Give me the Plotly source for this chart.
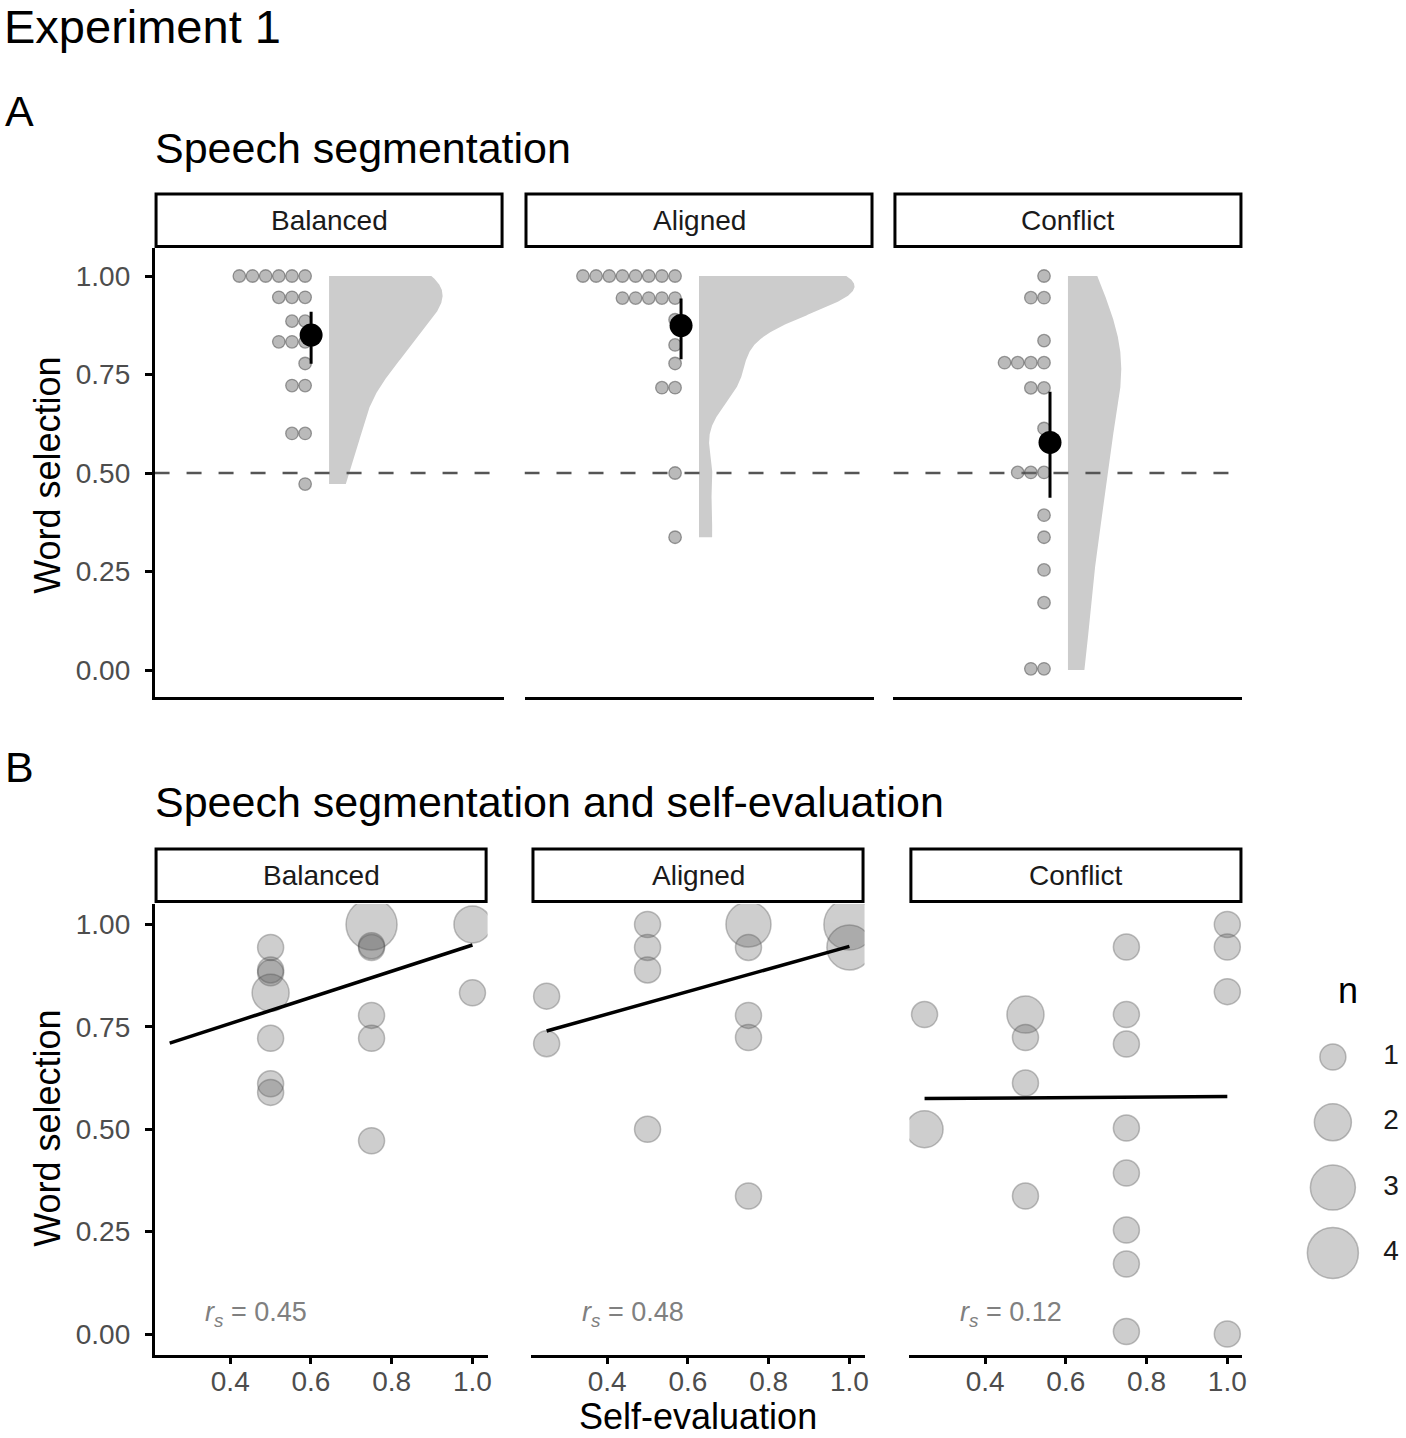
import numpy as np
import plotly.graph_objects as go

W, H = 1406, 1438

# ---------------- data ----------------
CONDITIONS = ["Balanced", "Aligned", "Conflict"]

# per participant group: self-evaluation, word selection, count n
BALANCED_SELF = [0.5, 0.5, 0.5, 0.5, 0.5, 0.5, 0.5, 0.75, 0.75, 0.75, 0.75, 0.75, 0.75, 1.0, 1.0]
BALANCED_WORD = [0.944, 0.889, 0.882, 0.833, 0.722, 0.611, 0.590, 1.0, 0.944, 0.948, 0.778, 0.722, 0.472, 1.0, 0.833]
BALANCED_N = [1, 1, 1, 2, 1, 1, 1, 4, 1, 1, 1, 1, 1, 2, 1]

ALIGNED_SELF = [0.25, 0.25, 0.5, 0.5, 0.5, 0.5, 0.75, 0.75, 0.75, 0.75, 0.75, 1.0, 1.0]
ALIGNED_WORD = [0.825, 0.709, 1.0, 0.944, 0.889, 0.5, 1.0, 0.944, 0.778, 0.724, 0.337, 1.0, 0.944]
ALIGNED_N = [1, 1, 1, 1, 1, 1, 3, 1, 1, 1, 1, 4, 3]

CONFLICT_SELF = [0.25, 0.25, 0.5, 0.5, 0.5, 0.5, 0.75, 0.75, 0.75, 0.75, 0.75, 0.75, 0.75, 0.75,
                 1.0, 1.0, 1.0, 1.0]
CONFLICT_WORD = [0.78, 0.5, 0.78, 0.724, 0.613, 0.337, 0.945, 0.78, 0.708, 0.503, 0.393, 0.254, 0.171, 0.006,
                 1.0, 0.945, 0.836, 0.0]
CONFLICT_N = [1, 2, 2, 1, 1, 1, 1, 1, 1, 1, 1, 1, 1, 1, 1, 1, 1, 1]

# bootstrapped 95% CI of the mean
CI_LOW = [0.777, 0.789, 0.437]
CI_HIGH = [0.909, 0.943, 0.706]

# Spearman correlations shown in panel B
RS_VALUES = [0.45, 0.48, 0.12]

CHANCE = 0.5
Y_TICKS = [0.0, 0.25, 0.5, 0.75, 1.0]
X_TICKS = [0.4, 0.6, 0.8, 1.0]
N_LEVELS = [1, 2, 3, 4]

DATA = {
    "Balanced": (BALANCED_SELF, BALANCED_WORD, BALANCED_N),
    "Aligned": (ALIGNED_SELF, ALIGNED_WORD, ALIGNED_N),
    "Conflict": (CONFLICT_SELF, CONFLICT_WORD, CONFLICT_N),
}

# ---------------- geometry / style ----------------
FONT = "Liberation Sans, Arial, Helvetica, sans-serif"
A_PANELS = [(155, 505), (526, 876), (896, 1246)]
A_TOP, A_BOT = 248, 697
A_XRANGE = [0.4, 1.6]
A_YRANGE = [-0.0685, 1.0711]
B_PANELS = [(155, 489), (533, 867), (912, 1246)]
B_TOP, B_BOT = 904, 1354.5
B_XRANGE = [0.2125, 1.0375]
B_YRANGE = [-0.05, 1.05]
A_STRIP = (194, 246.5)
B_STRIP = (849, 901.5)

A_PX_PER_X = (A_PANELS[0][1] - A_PANELS[0][0]) / (A_XRANGE[1] - A_XRANGE[0])
DOT_BINWIDTH = 0.0335
DOT_OFFSET_PX = -24
DOT_STEP_PX = 13.2
MEAN_OFFSET_PX = -18
VIOLIN_MAX_PX = 156
SIZE_PX = {1: 26, 2: 37, 3: 45, 4: 51}

CIRCLE_FILL = "rgba(90,90,90,0.42)"
CIRCLE_LINE = "rgba(70,70,70,0.5)"


def px_x(px):
    return px / W


def px_y(py):
    return 1 - py / H


def axid(k):
    return "" if k == 1 else str(k)


def expand(self_vals, word_vals, n_vals):
    s = np.repeat(np.asarray(self_vals, float), n_vals)
    w = np.repeat(np.asarray(word_vals, float), n_vals)
    return s, w


def dot_bins(values, binwidth):
    v = np.sort(np.asarray(values, float))
    centers, counts = [], []
    i = 0
    while i < len(v):
        start = v[i]
        j = i
        while j < len(v) and v[j] < start + binwidth:
            j += 1
        grp = v[i:j]
        centers.append((grp.min() + grp.max()) / 2)
        counts.append(len(grp))
        i = j
    return centers, counts


def kde(values, grid):
    v = np.asarray(values, float)
    n = len(v)
    sd = v.std(ddof=1)
    q75, q25 = np.percentile(v, [75, 25])
    iqr = q75 - q25
    lo = min(sd, iqr / 1.34) if iqr > 0 else sd
    bw = 0.9 * lo * n ** -0.2
    z = (grid[:, None] - v[None, :]) / bw
    return np.exp(-0.5 * z ** 2).sum(1) / (n * bw * np.sqrt(2 * np.pi))


fig = go.Figure()

# ---------------- densities (area scaling across panels) ----------------
dens = {}
for cond in CONDITIONS:
    _, w = expand(*DATA[cond])
    grid = np.linspace(w.min(), w.max(), 512)
    dens[cond] = (grid, kde(w, grid))
global_max = max(d.max() for _, d in dens.values())
violin_max_x = VIOLIN_MAX_PX / A_PX_PER_X

# ---------------- panel A ----------------
for i, cond in enumerate(CONDITIONS):
    k = i + 1
    xr, yr = "x" + axid(k), "y" + axid(k)
    s, w = expand(*DATA[cond])
    center = 1.0

    grid, d = dens[cond]
    vx = np.concatenate([center + violin_max_x * d / global_max, [center, center]])
    vy = np.concatenate([grid, [grid[-1], grid[0]]])
    fig.add_trace(go.Scatter(x=vx, y=vy, xaxis=xr, yaxis=yr, mode="lines", fill="toself",
                             fillcolor="#CCCCCC", line=dict(width=0, color="#CCCCCC"),
                             hoverinfo="skip", showlegend=False))

    fig.add_trace(go.Scatter(x=A_XRANGE, y=[CHANCE, CHANCE], xaxis=xr, yaxis=yr, mode="lines",
                             line=dict(color="#555555", width=2.5, dash="15px,17px"),
                             hoverinfo="skip", showlegend=False))

    centers, counts = dot_bins(w, DOT_BINWIDTH)
    dx, dy = [], []
    for c, cnt in zip(centers, counts):
        for j in range(cnt):
            dx.append(center + (DOT_OFFSET_PX - j * DOT_STEP_PX) / A_PX_PER_X)
            dy.append(c)
    fig.add_trace(go.Scatter(x=dx, y=dy, xaxis=xr, yaxis=yr, mode="markers",
                             marker=dict(size=12.5, color="rgba(110,110,110,0.48)",
                                         line=dict(color="rgba(80,80,80,0.55)", width=1.3)),
                             hoverinfo="skip", showlegend=False))

    mx = center + MEAN_OFFSET_PX / A_PX_PER_X
    fig.add_trace(go.Scatter(x=[mx, mx], y=[CI_LOW[i], CI_HIGH[i]], xaxis=xr, yaxis=yr,
                             mode="lines", line=dict(color="black", width=3),
                             hoverinfo="skip", showlegend=False))
    fig.add_trace(go.Scatter(x=[mx], y=[w.mean()], xaxis=xr, yaxis=yr, mode="markers",
                             marker=dict(size=23, color="black"),
                             hoverinfo="skip", showlegend=False))

# ---------------- panel B ----------------
all_self = np.concatenate([np.asarray(DATA[c][0], float) for c in CONDITIONS])
line_x = np.array([all_self.min(), all_self.max()])
for i, cond in enumerate(CONDITIONS):
    k = i + 4
    xr, yr = "x" + axid(k), "y" + axid(k)
    sv, wv, nv = DATA[cond]
    fig.add_trace(go.Scatter(x=sv, y=wv, xaxis=xr, yaxis=yr, mode="markers",
                             marker=dict(size=[SIZE_PX[n] for n in nv], color=CIRCLE_FILL,
                                         line=dict(color=CIRCLE_LINE, width=1.5)),
                             hoverinfo="skip", showlegend=False))
    s, w = expand(sv, wv, nv)
    slope, intercept = np.polyfit(s, w, 1)
    fig.add_trace(go.Scatter(x=line_x, y=intercept + slope * line_x, xaxis=xr, yaxis=yr,
                             mode="lines", line=dict(color="black", width=3.5),
                             hoverinfo="skip", showlegend=False))

# ---------------- size legend ----------------
fig.add_trace(go.Scatter(x=[0.346] * len(N_LEVELS), y=N_LEVELS, xaxis="x7", yaxis="y7",
                         mode="markers",
                         marker=dict(size=[SIZE_PX[n] for n in N_LEVELS], color=CIRCLE_FILL,
                                     line=dict(color=CIRCLE_LINE, width=1.5)),
                         hoverinfo="skip", showlegend=False))
fig.add_trace(go.Scatter(x=[0.896] * len(N_LEVELS), y=N_LEVELS, xaxis="x7", yaxis="y7",
                         mode="text", text=[str(n) for n in N_LEVELS],
                         textfont=dict(family=FONT, size=28, color="#1A1A1A"),
                         hoverinfo="skip", showlegend=False))

# ---------------- axes ----------------
layout = dict(width=W, height=H, margin=dict(l=0, r=0, t=0, b=0), autosize=False,
              paper_bgcolor="white", plot_bgcolor="rgba(0,0,0,0)", showlegend=False,
              font=dict(family=FONT, color="#1A1A1A"))

tickfont = dict(family=FONT, size=28, color="#4D4D4D")
for i in range(3):
    k = i + 1
    l, r = A_PANELS[i]
    layout["xaxis" + axid(k)] = dict(domain=[px_x(l), px_x(r)], range=A_XRANGE, anchor="y" + axid(k),
                                     showline=True, linecolor="black", linewidth=2.5,
                                     ticks="", showticklabels=False, showgrid=False, zeroline=False,
                                     fixedrange=True)
    ya = dict(domain=[px_y(A_BOT), px_y(A_TOP)], range=A_YRANGE, anchor="x" + axid(k),
              showgrid=False, zeroline=False, fixedrange=True)
    if k == 1:
        ya.update(showline=True, linecolor="black", linewidth=2.5, ticks="outside", ticklen=7,
                  tickwidth=2.5, tickcolor="black", tickvals=Y_TICKS, tickformat=".2f",
                  tickfont=tickfont, ticklabelstandoff=9)
    else:
        ya.update(showline=False, ticks="", showticklabels=False)
    layout["yaxis" + axid(k)] = ya

for i in range(3):
    k = i + 4
    l, r = B_PANELS[i]
    layout["xaxis" + axid(k)] = dict(domain=[px_x(l), px_x(r)], range=B_XRANGE, anchor="y" + axid(k),
                                     showline=True, linecolor="black", linewidth=2.5,
                                     ticks="outside", ticklen=7, tickwidth=2.5, tickcolor="black",
                                     tickvals=X_TICKS, tickformat=".1f", tickfont=tickfont,
                                     ticklabelstandoff=-7,
                                     showgrid=False, zeroline=False, fixedrange=True)
    ya = dict(domain=[px_y(B_BOT), px_y(B_TOP)], range=B_YRANGE, anchor="x" + axid(k),
              showgrid=False, zeroline=False, fixedrange=True)
    if k == 4:
        ya.update(showline=True, linecolor="black", linewidth=2.5, ticks="outside", ticklen=7,
                  tickwidth=2.5, tickcolor="black", tickvals=Y_TICKS, tickformat=".2f",
                  tickfont=tickfont, ticklabelstandoff=9)
    else:
        ya.update(showline=False, ticks="", showticklabels=False)
    layout["yaxis" + axid(k)] = ya

layout["xaxis7"] = dict(domain=[px_x(1300), px_x(1406)], range=[0, 1], anchor="y7", visible=False,
                        fixedrange=True)
layout["yaxis7"] = dict(domain=[px_y(1290), px_y(1020)], range=[4.568, 0.433], anchor="x7",
                        visible=False, fixedrange=True)

# ---------------- strips, titles, labels ----------------
shapes = []
annotations = []


def add_text(text, x, y, size, xanchor="left", color="#000000", angle=0):
    annotations.append(dict(text=text, x=px_x(x), y=px_y(y), xref="paper", yref="paper",
                            xanchor=xanchor, yanchor="middle", showarrow=False, textangle=angle,
                            borderpad=0, font=dict(family=FONT, size=size, color=color)))


for panels, (t, b) in ((A_PANELS, A_STRIP), (B_PANELS, B_STRIP)):
    for (l, r), cond in zip(panels, CONDITIONS):
        shapes.append(dict(type="rect", xref="paper", yref="paper",
                           x0=px_x(l + 1.5), x1=px_x(r - 1.5), y0=px_y(b), y1=px_y(t),
                           line=dict(color="black", width=3), fillcolor="white"))
        add_text(cond, (l + r) / 2, (t + b) / 2, 28, xanchor="center", color="#1A1A1A")

add_text("Experiment 1", 3, 27, 47)
add_text("A", 4, 111, 43)
add_text("Speech segmentation", 154, 147.5, 43)
add_text("B", 4, 767.5, 43)
add_text("Speech segmentation and self-evaluation", 154, 802, 43)
add_text("Word selection", 47, 475, 36, xanchor="center", angle=-90)
add_text("Word selection", 47, 1128, 36, xanchor="center", angle=-90)
add_text("Self-evaluation", 700, 1416, 36, xanchor="center")
add_text("n", 1352, 990, 36, xanchor="center")

for i, rs in enumerate(RS_VALUES):
    k = i + 4
    annotations.append(dict(text=f"<i>r<sub>s</sub></i> = {rs:.2f}", x=0.335, y=0.05,
                            xref="x" + axid(k), yref="y" + axid(k), xanchor="left", yanchor="middle",
                            showarrow=False, borderpad=0,
                            font=dict(family=FONT, size=27, color="#808080")))

layout["shapes"] = shapes
layout["annotations"] = annotations
fig.update_layout(**layout)

# remove the default page margin so the figure sits at the window's top-left corner
fig.write_html("out.html", config={"displayModeBar": False},
               post_script="document.body.style.margin='0';document.body.style.overflow='hidden';")
